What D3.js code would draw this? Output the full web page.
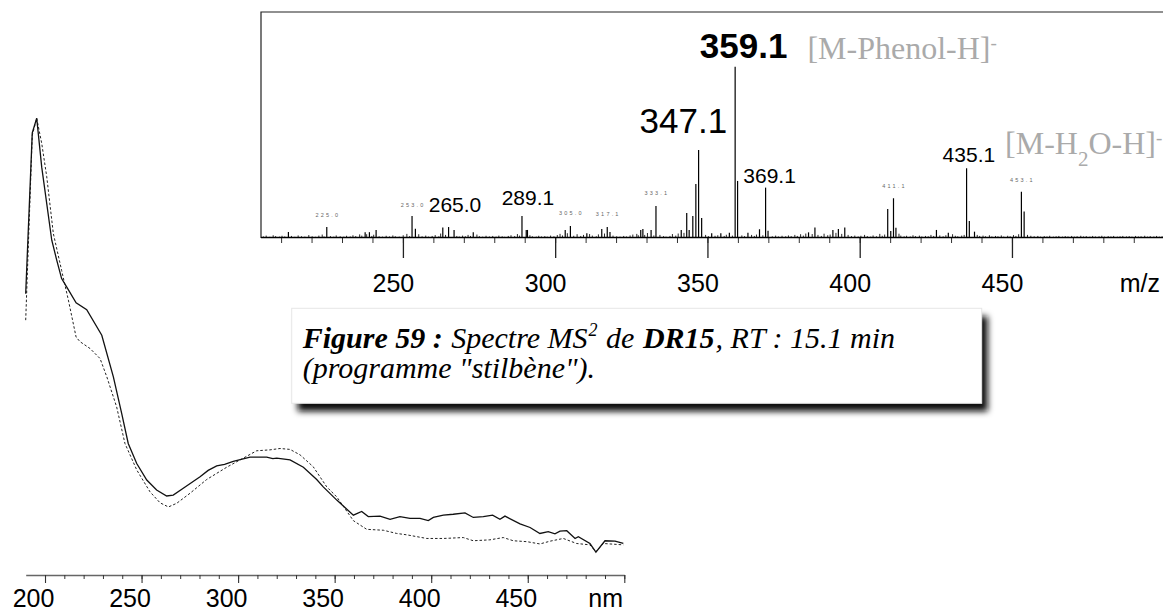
<!DOCTYPE html>
<html>
<head>
<meta charset="utf-8">
<script src="https://cdn.jsdelivr.net/npm/d3@7"></script>
<style>
  html, body { margin: 0; padding: 0; background: #fff; }
  svg { display: block; }
</style>
</head>
<body>
<svg id="fig" width="1163" height="611"></svg>
<script>
// ---------------- MS² spectrum : m/z vs relative intensity ----------------
const msDomain = [203.4, 499.6];
const msTickValues = [250, 300, 350, 400, 450];

// main fragment peaks [m/z, relative intensity %]
const msPeaks = [
  [212.4,3.5],[225.0,6.4],[237.6,3.3],[239.0,3.4],[241.2,4.7],[253.0,12.8],[254.1,5.4],
  [263.1,6.2],[265.0,6.4],[266.8,4.7],[273.1,3.3],[289.1,12.8],[290.5,4.7],[290.9,4.7],
  [303.3,4.7],[305.0,7.0],[310.4,2.7],[315.3,5.3],[317.1,6.4],[318.0,3.5],[328.1,4.7],
  [328.8,5.3],[331.5,4.7],[333.1,18.7],[341.4,4.7],[343.2,14.6],[344.0,4.7],[345.2,12.8],
  [346.2,31.5],[347.1,51.4],[348.1,11.7],[351.4,2.7],[354.4,2.7],[357.2,3.1],[359.1,100],
  [359.9,33.3],[363.3,3.1],[367.1,5.1],[369.1,29.4],[369.9,4.3],[383.2,3.3],[385.3,6.2],
  [391.2,4.7],[393.0,5.3],[395.1,6.2],[409.2,16.9],[410.2,4.1],[411.1,23.2],[411.9,6.0],
  [425.2,4.7],[429.1,3.1],[435.1,40.7],[436.0,9.9],[437.7,3.7],[453.1,27.0],[454.0,15.4]
];

// low-level signal along the baseline [m/z, relative intensity %]
const msNoise = [
  [204.2,0.9],[205.1,1.4],[206.3,0.7],[207.4,1.6],[208.2,1.1],[209.5,0.8],[210.3,1.3],[211.2,0.9],
  [213.4,1.2],[214.5,0.7],[215.6,1.5],[216.7,1.0],[217.8,0.8],[219.1,1.7],[220.2,1.0],[221.3,0.7],
  [222.4,1.4],[223.5,2.0],[224.1,0.9],[226.2,1.1],[227.3,0.8],[228.1,1.5],[229.4,1.0],[230.6,0.8],
  [231.5,1.3],[232.7,0.9],[233.6,1.6],[234.5,1.1],[235.8,2.1],[236.5,1.4],[238.1,2.2],[239.8,1.2],
  [240.4,1.9],[242.2,1.0],[243.3,0.8],[244.5,1.3],[245.6,0.9],[246.7,1.5],[247.5,1.0],[248.8,0.8],
  [250.1,1.6],[251.3,2.4],[252.2,1.1],[255.2,2.2],[256.3,1.0],[257.5,1.4],[258.4,0.8],[259.6,1.2],
  [260.6,1.7],[261.8,1.0],[262.4,2.6],[264.0,1.8],[267.7,1.2],[268.5,0.9],[269.6,1.4],[270.5,1.0],
  [271.4,1.8],[272.2,1.2],[274.3,2.0],[275.1,1.1],[276.2,0.8],[277.3,1.3],[278.4,0.9],[279.5,1.2],
  [280.6,0.8],[281.5,1.4],[282.6,1.0],[283.4,0.7],[284.6,1.2],[285.5,1.6],[286.7,1.1],[287.6,2.3],
  [288.3,1.4],[291.7,1.6],[292.5,1.0],[293.8,0.8],[294.6,1.3],[295.5,0.9],[296.6,1.1],[297.4,0.8],
  [298.5,1.4],[299.6,1.0],[300.7,1.7],[301.6,2.4],[302.4,1.5],[304.0,2.8],[306.1,1.3],[307.2,2.2],
  [308.4,1.2],[309.3,1.8],[311.3,2.3],[312.2,1.4],[313.5,1.0],[314.2,2.1],[316.2,2.6],[319.0,1.4],
  [320.2,1.0],[321.3,0.8],[322.5,1.2],[323.4,0.9],[324.6,1.5],[325.5,2.0],[326.8,2.4],[327.3,1.6],
  [329.4,1.8],[330.3,2.9],[332.4,1.5],[334.4,1.8],[335.6,1.1],[336.4,0.8],[337.7,1.2],[338.5,2.3],
  [339.6,1.4],[340.4,2.6],[342.3,3.0],[349.4,1.8],[350.3,1.1],[352.5,1.3],[353.4,1.6],[355.5,1.2],
  [356.2,1.9],[358.2,1.4],[361.3,1.5],[362.2,1.1],[364.5,1.8],[365.4,1.2],[366.1,2.0],[368.2,1.6],
  [371.3,1.0],[372.4,1.4],[373.3,0.9],[374.5,1.3],[375.7,1.0],[376.6,1.5],[377.5,1.1],[378.7,1.8],
  [379.5,1.2],[380.6,2.2],[381.5,1.4],[382.3,2.6],[384.4,2.3],[386.3,1.8],[387.4,1.2],[388.3,2.5],
  [389.5,1.6],[390.3,2.0],[392.2,3.0],[394.1,2.4],[396.2,1.8],[397.3,1.1],[398.4,1.4],[399.5,0.9],
  [400.4,1.3],[401.6,1.8],[402.5,1.1],[403.6,0.8],[404.4,1.5],[405.5,1.0],[406.6,2.4],[407.4,1.3],
  [408.2,2.0],[412.9,2.5],[413.5,1.4],[414.6,1.0],[415.4,1.3],[416.6,0.9],[417.5,1.6],[418.3,1.1],
  [419.6,1.4],[420.4,0.9],[421.6,1.2],[422.5,1.0],[423.4,1.8],[424.3,1.2],[426.3,1.5],[427.4,1.0],
  [428.3,1.6],[430.5,2.2],[431.4,1.3],[432.2,1.0],[433.5,1.4],[434.3,1.8],[438.6,1.8],[439.4,1.2],
  [440.5,1.4],[441.3,1.0],[442.6,1.6],[443.4,0.9],[444.6,1.2],[445.4,1.0],[446.5,1.5],[447.3,0.8],
  [448.6,1.3],[449.4,1.0],[450.5,1.7],[451.3,1.2],[452.2,2.2],[455.1,1.8],[456.2,1.3],[457.3,1.0],
  [458.5,1.2],[459.4,0.8],[460.6,1.1],[461.5,0.9],[462.4,1.3],[463.6,0.8],[464.5,1.0],[465.4,1.2],
  [466.6,0.8],[467.5,1.1],[468.4,0.9],[469.6,1.2],[470.5,0.8],[471.4,1.0],[472.6,1.3],[473.5,0.9],
  [474.4,1.1],[475.6,0.8],[476.5,1.2],[477.4,0.9],[478.6,1.0],[479.5,1.3],[480.4,0.8],[481.6,1.1],
  [482.5,0.9],[483.4,1.2],[484.6,0.8],[485.5,1.0],[486.4,1.2],[487.6,0.9],[488.5,1.1],[489.4,0.8],
  [490.6,1.2],[491.5,0.9],[492.4,1.0],[493.6,1.3],[494.5,0.8],[495.4,1.1],[496.6,0.9],[497.5,1.2],
  [498.4,0.8],[499.3,1.0]
];

// annotated peaks
const msBigLabels = ["359.1", "347.1", "369.1", "435.1", "265.0", "289.1"];
const msSmallLabels = ["225.0", "253.0", "305.0", "317.1", "333.1", "411.1", "453.1"];

// ---------------- UV spectrum : absorbance (normalised) vs wavelength ----------------
const uvDomain = [190, 500];
const uvTickLabels = [200, 250, 300, 350, 400, 450];

const uvSolid = [
  [190.0,61.6],[193.4,96.8],[195.7,100],[198.3,89.3],[203.5,73.3],[206.1,68.9],[208.6,64.9],
  [211.2,63.1],[216.1,59.6],[221.6,58.1],[229.4,52.5],[235.4,43.4],[239.7,35.4],[243.1,28.8],
  [247.5,24.4],[252.7,20.8],[257.8,18.6],[263.0,17.3],[266.4,17.5],[271.6,19.0],[280.3,21.5],
  [284.5,22.9],[288.9,23.9],[293.0,24.2],[297.5,24.9],[306.2,25.8],[314.8,25.8],[318.0,25.5],
  [320.0,25.6],[326.9,25.2],[333.8,23.6],[340.7,20.9],[344.1,19.3],[351.1,16.4],[359.7,13.1],
  [364.0,13.9],[367.4,12.8],[373.5,12.9],[378.7,12.2],[383.8,12.8],[389.0,12.4],[394.2,12.4],
  [398.5,11.9],[401.1,12.6],[406.3,13.1],[411.4,13.3],[417.5,13.6],[421.8,12.6],[427.0,12.8],
  [431.8,13.1],[435.6,12.2],[438.2,12.9],[446.0,11.2],[451.2,10.4],[456.3,9.1],[460.6,9.5],
  [464.1,9.0],[466.7,9.6],[470.2,9.7],[474.5,8.0],[476.2,8.4],[482.2,6.9],[485.3,5.0],
  [490.0,7.5],[495.2,7.4],[499.5,6.9]
];

const uvDashed = [
  [190.0,55.8],[193.4,96.3],[195.7,100],[198.3,94.5],[200.9,87.2],[204.3,74.8],[208.6,66.7],
  [212.1,60.2],[216.1,52.1],[218.1,51.1],[223.3,49.6],[228.5,47.4],[232.0,43.4],[237.1,36.8],
  [241.4,28.8],[247.5,23.0],[254.4,18.2],[259.6,15.8],[263.9,14.9],[268.2,15.7],[275.1,17.9],
  [283.7,20.9],[294.1,23.6],[301.0,25.2],[309.6,27.2],[316.5,27.4],[321.7,27.7],[326.9,27.5],
  [332.1,26.3],[338.9,23.7],[345.9,19.3],[351.1,17.1],[359.7,11.9],[366.6,10.0],[375.2,9.8],
  [382.1,9.1],[387.3,8.8],[397.7,8.0],[406.3,8.0],[416.6,8.2],[421.8,7.5],[430.4,7.7],
  [437.3,8.2],[442.5,7.5],[449.5,7.3],[456.3,6.8],[461.5,7.4],[468.4,8.0],[475.3,6.9],
  [482.2,6.6],[485.3,5.1],[489.1,6.9],[499.5,6.6]
];

// caption pieces: text, bold, superscript
const captionLine1 = [
  ["Figure 59 :", true, false],
  ["Spectre MS", false, false],
  ["2", false, true],
  ["de", false, false],
  ["DR15", true, false],
  [", RT : 15.1 min", false, false]
];
const captionLine2 = "(programme \"stilbène\").";

// ---------------- drawing ----------------
const SANS = "'Liberation Sans', Arial, sans-serif";
const SERIF = "'Liberation Serif', 'Times New Roman', serif";
const svg = d3.select("#fig");

// ===== UV panel =====
const xUv = d3.scaleLinear().domain(uvDomain).range([25.7, 624.3]);
const yUv = d3.scaleLinear().domain([0, 100]).range([575, 118.3]);

const uvAxisG = svg.append("g").attr("transform", "translate(0,575)");
uvAxisG.append("g")
  .call(d3.axisBottom(xUv).tickValues(d3.range(200, 501, 10)).tickSize(4).tickSizeOuter(0).tickFormat(""))
  .call(g => g.select(".domain").attr("stroke", "#666").attr("stroke-width", 1.6))
  .call(g => g.selectAll(".tick line").attr("stroke", "#333").attr("stroke-width", 1));
uvAxisG.append("g")
  .call(d3.axisBottom(xUv).tickValues(d3.range(200, 501, 50)).tickSize(8).tickPadding(6)
        .tickFormat(d => uvTickLabels.includes(d) ? d : ""))
  .call(g => g.select(".domain").remove())
  .call(g => g.selectAll(".tick line").attr("stroke", "#333").attr("stroke-width", 1.1))
  .call(g => g.selectAll(".tick text").attr("fill", "#000").attr("dx", -12)
        .style("font-family", SANS).style("font-size", "25px"));
svg.append("text").attr("x", 623).attr("y", 606.7).attr("text-anchor", "end")
  .style("font-family", SANS).style("font-size", "25px").text("nm");

const uvLine = d3.line().x(d => xUv(d[0])).y(d => yUv(d[1]));
svg.append("path").datum(uvDashed).attr("d", uvLine)
  .attr("fill", "none").attr("stroke", "#222").attr("stroke-width", 1)
  .attr("stroke-dasharray", "2.5,2");
svg.append("path").datum(uvSolid).attr("d", uvLine)
  .attr("fill", "none").attr("stroke", "#111").attr("stroke-width", 1.3);

// ===== MS panel =====
const xMs = d3.scaleLinear().domain(msDomain).range([261, 1163]);
const yMs = d3.scaleLinear().domain([0, 131.9]).range([238, 12]);

// frame (left and top)
svg.append("path")
  .attr("d", `M${xMs.range()[0]},${yMs(0)}V${yMs.range()[1]}H${xMs.range()[1]}`)
  .attr("fill", "none").attr("stroke", "#222").attr("stroke-width", 1.2);

// axes
const msAxisG = svg.append("g").attr("transform", `translate(0,${yMs(0)})`);
msAxisG.append("g")
  .call(d3.axisBottom(xMs).tickValues(d3.range(210, 500, 10)).tickSize(5).tickFormat(""))
  .call(g => g.select(".domain").remove())
  .call(g => g.selectAll(".tick line").attr("stroke", "#333").attr("stroke-width", 1));
msAxisG.append("g")
  .call(d3.axisBottom(xMs).tickValues(msTickValues).tickSize(20).tickPadding(16))
  .call(g => g.select(".domain").remove())
  .call(g => g.selectAll(".tick line").attr("stroke", "#222").attr("stroke-width", 1.3))
  .call(g => g.selectAll(".tick text").attr("fill", "#000").attr("dx", -10)
        .style("font-family", SANS).style("font-size", "25px"));
svg.append("text").attr("x", 1160).attr("y", 291.7).attr("text-anchor", "end")
  .style("font-family", SANS).style("font-size", "25px").text("m/z");

// baseline signal and peaks
svg.append("g").selectAll("line").data(msNoise).join("line")
  .attr("x1", d => xMs(d[0])).attr("x2", d => xMs(d[0]))
  .attr("y1", yMs(0)).attr("y2", d => yMs(d[1]))
  .attr("stroke", "#111").attr("stroke-width", 0.9);
svg.append("line")
  .attr("x1", xMs.range()[0]).attr("x2", xMs.range()[1])
  .attr("y1", yMs(0) - 0.5).attr("y2", yMs(0) - 0.5)
  .attr("stroke", "#000").attr("stroke-width", 1.6);
svg.append("g").selectAll("line").data(msPeaks).join("line")
  .attr("x1", d => xMs(d[0])).attr("x2", d => xMs(d[0]))
  .attr("y1", yMs(0)).attr("y2", d => yMs(d[1]))
  .attr("stroke", "#000").attr("stroke-width", 1.2);

const peakOf = label => msPeaks.find(p => Math.abs(p[0] - +label) < 0.05);

// peak labels: offsets from the peak apex
const bigStyle = {
  "359.1": { size: 35, weight: "bold", dx: 8.5,  dy: -8.4 },
  "347.1": { size: 35, weight: "normal", dx: -15.2, dy: -16.6 },
  "369.1": { size: 21, weight: "normal", dx: 4,   dy: -5 },
  "435.1": { size: 21, weight: "normal", dx: 2.3, dy: -6.6 },
  "265.0": { size: 21, weight: "normal", dx: 6.4, dy: -15.3 },
  "289.1": { size: 21, weight: "normal", dx: 6,   dy: -11 }
};
svg.append("g").selectAll("text").data(msBigLabels).join("text")
  .attr("x", d => xMs(peakOf(d)[0]) + bigStyle[d].dx)
  .attr("y", d => yMs(peakOf(d)[1]) + bigStyle[d].dy)
  .attr("text-anchor", "middle")
  .style("font-family", SANS)
  .style("font-size", d => bigStyle[d].size + "px")
  .style("font-weight", d => bigStyle[d].weight)
  .text(d => d);

const smallDy = { "225.0": -10.3, "253.0": -9, "305.0": -10.7, "317.1": -11.5,
                  "333.1": -10.7, "411.1": -10.3, "453.1": -9.7 };
svg.append("g").selectAll("text").data(msSmallLabels).join("text")
  .attr("x", d => xMs(peakOf(d)[0]) + 1)
  .attr("y", d => yMs(peakOf(d)[1]) + smallDy[d])
  .attr("text-anchor", "middle")
  .style("font-family", SANS).style("font-size", "5.5px")
  .style("letter-spacing", "2.2px").attr("fill", "#666")
  .text(d => d);

// ion assignments
const ionG = svg.append("g").style("font-family", SERIF).attr("fill", "#aaa");
const ph = ionG.append("text")
  .attr("x", xMs(359.1) + 72.3).attr("y", 59).style("font-size", "32px");
ph.append("tspan").text("[M-Phenol-H]");
ph.append("tspan").attr("baseline-shift", "super").style("font-size", "19px").text("-");

const wa = ionG.append("text")
  .attr("x", xMs(435.1) + 38.5).attr("y", 154).style("font-size", "32px");
wa.append("tspan").text("[M-H");
wa.append("tspan").attr("baseline-shift", "sub").style("font-size", "21px").text("2");
wa.append("tspan").text("O-H]");
wa.append("tspan").attr("baseline-shift", "super").style("font-size", "19px").text("-");

// ===== caption box =====
const defs = svg.append("defs");
defs.append("filter").attr("id", "boxShadow")
  .attr("x", "-5%").attr("y", "-20%").attr("width", "115%").attr("height", "160%")
  .append("feGaussianBlur").attr("stdDeviation", 3.4);

const box = { x: 291.7, y: 308.3, w: 690, h: 95 };
svg.append("rect")
  .attr("x", box.x + 6).attr("y", box.y + 8).attr("width", box.w).attr("height", box.h)
  .attr("fill", "#111").attr("filter", "url(#boxShadow)");
svg.append("rect")
  .attr("x", box.x).attr("y", box.y).attr("width", box.w).attr("height", box.h)
  .attr("fill", "#fff").attr("stroke", "#e6e6e6").attr("stroke-width", 1);

// caption text, laid out piece by piece so that the first line spans its width
const cap = svg.append("g").style("font-family", SERIF).style("font-style", "italic")
  .attr("fill", "#000");
const capX = box.x + 11, capW = 594;

function layoutCaption(size) {
  cap.selectAll("*").remove();
  const space = size * 0.25;
  let x = capX;
  captionLine1.forEach(([t, bold, sup], i) => {
    const fsz = sup ? size * 0.6 : size;
    if (i > 0 && !sup && !t.startsWith(",")) x += space;
    const el = cap.append("text")
      .attr("x", x).attr("y", sup ? 348.3 - size * 0.42 : 348.3)
      .style("font-size", fsz + "px")
      .style("font-weight", bold ? "bold" : "normal")
      .text(t);
    x += el.node().getComputedTextLength() + 1;
  });
  cap.append("text").attr("x", capX).attr("y", 378.3)
    .style("font-size", size + "px").text(captionLine2);
  return x - capX;
}
const w0 = layoutCaption(28);
layoutCaption(28 * capW / w0);
</script>
</body>
</html>
